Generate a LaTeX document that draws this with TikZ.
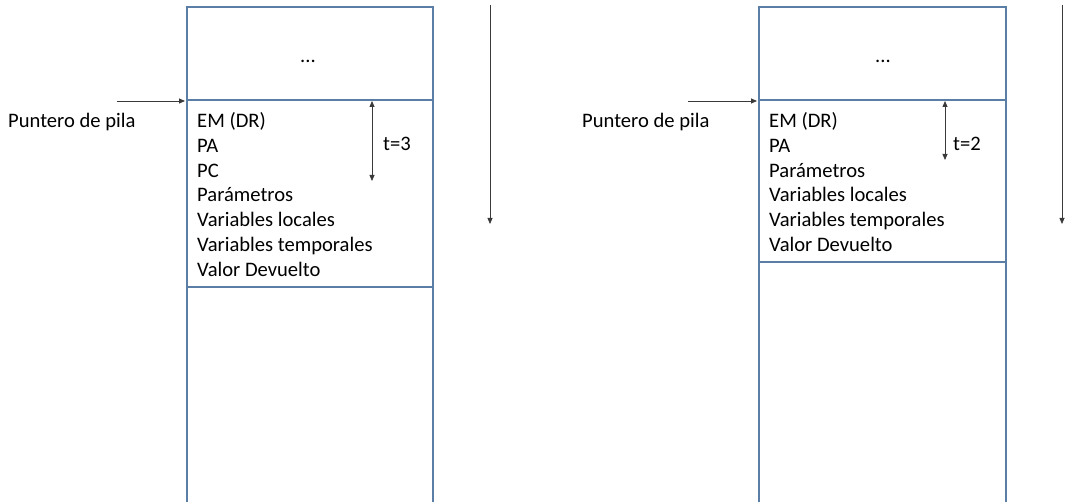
\documentclass[tikz,border=0pt]{standalone}
\usepackage{fontspec}
\setmainfont{Carlito}
\usetikzlibrary{arrows.meta}
\definecolor{frameblue}{HTML}{5A7EA6}
\definecolor{arrowgrey}{HTML}{3A3A3A}
\tikzset{
  stackbox/.style={draw=frameblue, line width=1.2pt},
  divider/.style={draw=frameblue, line width=2pt},
  lbl/.style={anchor=base west, inner sep=0pt, font=\fontsize{20.6}{24}\selectfont},
  ptr/.style={draw=arrowgrey, line width=0.8pt, -{Triangle[length=6pt,width=5pt]}},
  span/.style={draw=arrowgrey, line width=0.8pt, {Triangle[length=6pt,width=5pt]}-{Triangle[length=6pt,width=5pt]}},
}
\begin{document}
\begin{tikzpicture}[x=1pt,y=-1pt]
\useasboundingbox (0,0) rectangle (1065,502);
\fill[white] (0,0) rectangle (1065,502);

% ---------- left stack (t=3) ----------
\coordinate (LTL) at (187,7);
\coordinate (LBR) at (433,510);
\draw[stackbox] (LTL) rectangle (LBR);
\draw[stackbox] (187,100) rectangle (433,287);
\coordinate (Ldl) at (187,100);
\coordinate (Ldr) at (433,100);
\draw[divider] (Ldl) -- (Ldr);
\node[lbl, anchor=center] (Ldots) at (308,61) {...};
\foreach \t [count=\i] in {EM (DR),PA,PC,Parámetros,Variables locales,Variables temporales,Valor Devuelto}
  \node[lbl] (L\i) at (197,{127.5+24.8*(\i-1)}) {\t};
\node[lbl] (Lptr) at (8,128) {Puntero de pila};
\coordinate (Lps) at (117,101);
\coordinate (Lpe) at (185,101);
\draw[ptr] (Lps) -- (Lpe);
\coordinate (Lts) at (372,101);
\coordinate (Lte) at (372,181);
\draw[span] (Lts) -- (Lte);
\node[lbl] (Lt) at (383,151) {t=3};
\coordinate (Lgs) at (490,5);
\coordinate (Lge) at (490,224);
\draw[ptr] (Lgs) -- (Lge);

% ---------- right stack (t=2) ----------
\coordinate (RTL) at (759,7);
\coordinate (RBR) at (1006,510);
\draw[stackbox] (RTL) rectangle (RBR);
\draw[stackbox] (759,100) rectangle (1006,262);
\coordinate (Rdl) at (759,100);
\coordinate (Rdr) at (1006,100);
\draw[divider] (Rdl) -- (Rdr);
\node[lbl, anchor=center] (Rdots) at (883,61) {...};
\foreach \t [count=\i] in {EM (DR),PA,Parámetros,Variables locales,Variables temporales,Valor Devuelto}
  \node[lbl] (R\i) at (769,{127.5+24.8*(\i-1)}) {\t};
\node[lbl] (Rptr) at (582,128) {Puntero de pila};
\coordinate (Rps) at (688,101);
\coordinate (Rpe) at (757,101);
\draw[ptr] (Rps) -- (Rpe);
\coordinate (Rts) at (945,101);
\coordinate (Rte) at (945,160);
\draw[span] (Rts) -- (Rte);
\node[lbl] (Rt) at (953,151) {t=2};
\coordinate (Rgs) at (1062,5);
\coordinate (Rge) at (1062,224);
\draw[ptr] (Rgs) -- (Rge);
\end{tikzpicture}
\end{document}
